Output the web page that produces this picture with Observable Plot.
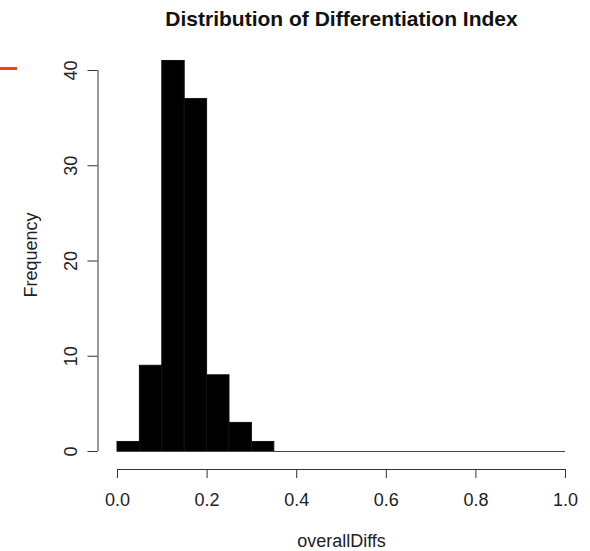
<!DOCTYPE html>
<html>
<head>
<meta charset="utf-8">
<script src="https://cdn.jsdelivr.net/npm/d3@7"></script>
<script src="https://cdn.jsdelivr.net/npm/@observablehq/plot@0.6"></script>
<style>
  html, body { margin: 0; padding: 0; background: #fff; }
  #wrap { position: relative; width: 590px; height: 551px; }
  #mark { position: absolute; left: 0; top: 67px; width: 17px; height: 3px; background: #ff3b1a; z-index: 2; }
</style>
</head>
<body>
<div id="wrap"><div id="mark"></div></div>
<script>
const title = "Distribution of Differentiation Index";
const xLabel = "overallDiffs";
const yLabel = "Frequency";
const binStart = [0.00,0.05,0.10,0.15,0.20,0.25,0.30,0.35,0.40,0.45,0.50,0.55,0.60,0.65,0.70,0.75,0.80,0.85,0.90,0.95];
const binEnd   = [0.05,0.10,0.15,0.20,0.25,0.30,0.35,0.40,0.45,0.50,0.55,0.60,0.65,0.70,0.75,0.80,0.85,0.90,0.95,1.00];
const counts   = [1,9,41,37,8,3,1,0,0,0,0,0,0,0,0,0,0,0,0,0];
const xTicks = [0,0.2,0.4,0.6,0.8,1.0];
const yTicks = [0,10,20,30,40];

const bins = binStart.map((s,i) => ({x0: s, x1: binEnd[i], count: counts[i]}));
const font = "'Liberation Sans', Arial, sans-serif";
const axisColor = "#333";

const chart = Plot.plot({
  width: 590,
  height: 551,
  marginLeft: 117,
  marginRight: 25,
  marginTop: 70,
  marginBottom: 100,
  style: {fontFamily: font, background: "#fff", overflow: "visible"},
  x: {domain: [0, 1]},
  y: {domain: [0, 40]},
  marks: [
    Plot.rectY(bins.filter(d => d.count > 0), {x1: "x0", x2: "x1", y: "count", fill: "black", stroke: "#111", strokeWidth: 1}),
    Plot.ruleY([0], {x1: binStart[0], x2: binEnd[binEnd.length-1], stroke: "#444", strokeWidth: 1}),
    // x axis
    Plot.ruleY([0], {x1: xTicks[0], x2: xTicks[xTicks.length-1], dy: 18, stroke: axisColor}),
    Plot.axisX({ticks: xTicks, tickFormat: d3.format(".1f"), dy: 18, tickSize: 9, tickPadding: 15, fontSize: 18, label: null, stroke: axisColor, fill: "#222"}),
    // y axis
    Plot.ruleX([0], {y1: yTicks[0], y2: yTicks[yTicks.length-1], dx: -19.5, stroke: axisColor}),
    Plot.axisY({ticks: yTicks, tickFormat: d3.format("d"), dx: -19.5, tickSize: 10, tickRotate: -90, tickPadding: 11, fontSize: 18, label: null, stroke: axisColor, fill: "#222"}),
    // labels
    Plot.text([title], {frameAnchor: "top", lineAnchor: "middle", textAnchor: "middle", dy: -51, fontSize: 21, fontWeight: "bold", fill: "#111"}),
    Plot.text([xLabel], {frameAnchor: "bottom", lineAnchor: "middle", textAnchor: "middle", dy: 90, fontSize: 18, fill: "#222"}),
    Plot.text([yLabel], {frameAnchor: "left", lineAnchor: "middle", textAnchor: "middle", dx: -86, dy: -6, rotate: -90, fontSize: 18, fill: "#222"})
  ]
});
document.getElementById("wrap").appendChild(chart);
chart.style.position = "absolute";
chart.style.left = "0";
chart.style.top = "0";
</script>
</body>
</html>
